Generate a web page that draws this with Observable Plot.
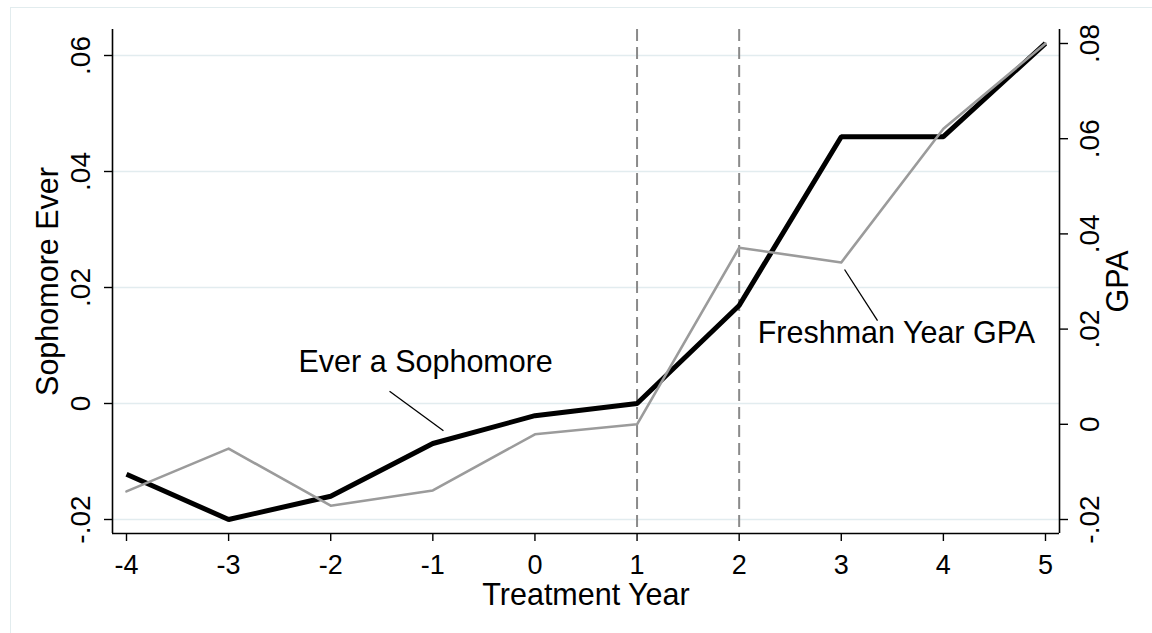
<!DOCTYPE html>
<html>
<head>
<meta charset="utf-8">
<script src="https://cdn.jsdelivr.net/npm/d3@7"></script>
<script src="https://cdn.jsdelivr.net/npm/@observablehq/plot@0.6"></script>
<style>
  html, body { margin: 0; padding: 0; background: #fff; }
  #wrap { position: relative; width: 1152px; height: 633px; overflow: hidden; }
  #outline { position: absolute; left: 10px; top: 7px; width: 1200px; height: 700px;
             border-top: 1px solid #e2ecee; border-left: 1px solid #e2ecee; }
  #chart { position: absolute; left: 0; top: 0; }
</style>
</head>
<body>
<div id="wrap"><div id="outline"></div><div id="chart"></div></div>
<script>
// ---- data ----
const years = [-4, -3, -2, -1, 0, 1, 2, 3, 4, 5];
const sophomoreEver = [-0.0122, -0.0200, -0.0160, -0.0069, -0.0021, 0.0000, 0.0169, 0.0460, 0.0460, 0.0621];
const freshmanGPA   = [-0.0141, -0.0051, -0.0171, -0.0139, -0.0021, 0.0000, 0.0371, 0.0340, 0.0621, 0.0800];
const xTicks = [-4, -3, -2, -1, 0, 1, 2, 3, 4, 5];
const leftTicks = [-0.02, 0, 0.02, 0.04, 0.06];
const rightTicks = [-0.02, 0, 0.02, 0.04, 0.06, 0.08];
const eventYears = [1, 2];
const labels = [
  {name: "Ever a Sophomore", x: -1.07, y: 0.0071, x1: -1.424, y1: 0.0021, x2: -0.896, y2: -0.0047},
  {name: "Freshman Year GPA", x: 3.54, y: 0.0121, x1: 3.032, y1: 0.0231, x2: 3.355, y2: 0.0143}
];

// right (GPA) axis aligned to left axis: both share -.02; left .02 step = 116px, right .02 step = 95.2px
const gpaRatio = (476 / 0.10) / (464 / 0.08);
const toLeft = g => -0.02 + (g + 0.02) * gpaRatio;

const fmt = d => {
  if (Math.abs(d) < 1e-9) return "0";
  return d.toFixed(2).replace("0.", ".");
};

const soph = years.map((t, i) => ({t, v: sophomoreEver[i]}));
const gpa = years.map((t, i) => ({t, v: toLeft(freshmanGPA[i])}));

const xDom = [-4 - 14 / 102.11, 5 + 14 / 102.11];
const yDom = [-0.02 - 14 / 5800, -0.02 + 490 / 5800];

const font = "'Liberation Sans', Arial, Helvetica, sans-serif";

const chart = Plot.plot({
  width: 1152,
  height: 633,
  marginLeft: 112,
  marginRight: 93,
  marginTop: 29,
  marginBottom: 100,
  style: {fontFamily: font, color: "#000", background: "transparent"},
  x: {domain: xDom, axis: null},
  y: {domain: yDom, axis: null},
  marks: [
    Plot.ruleY(leftTicks, {stroke: "#e2ecef", strokeWidth: 1.6}),
    Plot.ruleX(eventYears, {stroke: "#8a8a8a", strokeWidth: 2, strokeDasharray: "12,6"}),
    // axis lines
    Plot.ruleX([xDom[0], xDom[1]], {stroke: "#000", strokeWidth: 1.6}),
    Plot.ruleY([yDom[0]], {stroke: "#000", strokeWidth: 1.6}),
    // tick marks
    Plot.axisY(leftTicks, {anchor: "left", tickSize: 8, fill: "none", label: null, strokeWidth: 1.4}),
    Plot.axisY(rightTicks.map(toLeft), {anchor: "right", tickSize: 8, fill: "none", label: null, strokeWidth: 1.4}),
    Plot.axisX(xTicks, {anchor: "bottom", tickSize: 8, fill: "none", label: null, strokeWidth: 1.4}),
    // tick labels
    Plot.text(leftTicks, {y: d => d, text: fmt, frameAnchor: "left", dx: -31, rotate: -90, fontSize: 28, textAnchor: "middle", lineAnchor: "middle", fill: "#000"}),
    Plot.text(rightTicks, {y: d => toLeft(d), text: fmt, frameAnchor: "right", dx: 31, rotate: -90, fontSize: 28, textAnchor: "middle", lineAnchor: "middle", fill: "#000"}),
    Plot.text(xTicks, {x: d => d, text: d => String(d), frameAnchor: "bottom", dy: 32, fontSize: 27, textAnchor: "middle", lineAnchor: "middle", fill: "#000"}),
    // axis titles
    Plot.text(["Sophomore Ever"], {frameAnchor: "left", dx: -64, rotate: -90, fontSize: 30.5, textAnchor: "middle", lineAnchor: "middle", fill: "#000"}),
    Plot.text(["GPA"], {frameAnchor: "right", dx: 59, rotate: -90, fontSize: 30.5, textAnchor: "middle", lineAnchor: "middle", fill: "#000"}),
    Plot.text(["Treatment Year"], {frameAnchor: "bottom", dy: 62, fontSize: 30.5, textAnchor: "middle", lineAnchor: "middle", fill: "#000"}),
    // series
    Plot.line(soph, {x: "t", y: "v", stroke: "#000", strokeWidth: 5, strokeLinejoin: "miter", strokeLinecap: "butt"}),
    Plot.line(gpa, {x: "t", y: "v", stroke: "#9b9b9b", strokeWidth: 2.6}),
    // annotations
    Plot.link(labels, {x1: "x1", y1: "y1", x2: "x2", y2: "y2", stroke: "#000", strokeWidth: 1.3}),
    Plot.text(labels, {x: "x", y: "y", text: "name", fontSize: 30.5, textAnchor: "middle", lineAnchor: "middle", fill: "#000"})
  ]
});

document.getElementById("chart").appendChild(chart);
</script>
</body>
</html>
